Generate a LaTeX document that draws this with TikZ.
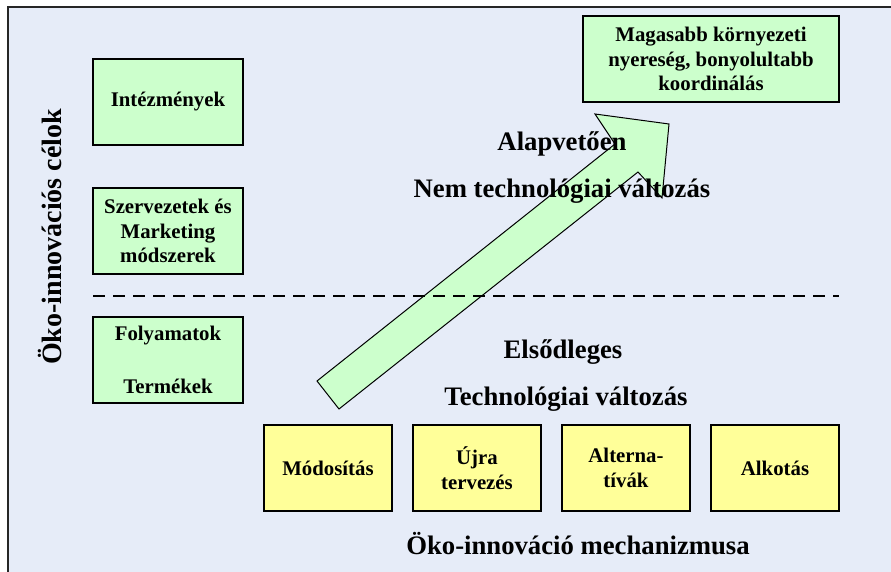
\documentclass[tikz,border=0pt]{standalone}
\usepackage{fontspec}
\setmainfont{Liberation Serif}
\definecolor{bgc}{HTML}{E6ECF8}
\definecolor{gboxc}{HTML}{CCFFCC}
\definecolor{yboxc}{HTML}{FFFF99}
\begin{document}
\begin{tikzpicture}[x=1pt,y=-1pt,
  box/.style={draw=black, line width=1.4pt, inner sep=0pt, align=center,
    font=\fontsize{20.8}{24.5}\selectfont\bfseries, text=black, minimum height=86pt},
  goalbox/.style={box, fill=gboxc, minimum width=150pt},
  mechbox/.style={box, fill=yboxc, minimum width=128pt},
  bigtext/.style={font=\fontsize{26.7}{31}\selectfont\bfseries, anchor=base, inner sep=0pt, text=black},
  shaft/.style={fill=gboxc, draw=black, line width=1pt, line join=miter},
  divider/.style={draw=black, line width=1.4pt, dash pattern=on 12pt off 8pt}]
\clip (0,0) rectangle (891,572);
\draw[fill=bgc, draw=black!85, line width=1.5pt] (8,7) rectangle (900,590);

% goal boxes
\node[goalbox] (intez) at (168,102) {Intézmények};
\node[goalbox] (szerv) at (168,231) {Szervezetek és\\Marketing\\módszerek};
\node[goalbox] (foly) at (168,360) {Folyamatok\\[28pt]Termékek};
\node[goalbox, minimum width=256pt] (top) at (711,59) {Magasabb környezeti\\nyereség, bonyolultabb\\koordinálás};

% mechanism boxes
\node[mechbox] (mod) at (328,468) {Módosítás};
\node[mechbox] (ujra) at (477,468) {Újra\\tervezés};
\node[mechbox] (alt) at (626,468) {Alterna-\\tívák};
\node[mechbox] (alk) at (775,468) {Alkotás};

% big arrow
\draw[shaft] (317,381) -- (615,144) -- (595,114) -- (669,124) -- (662,198) -- (638,172) -- (339,409) -- cycle;

% divider
\coordinate (dl) at (93,296);
\coordinate (dr) at (839,296);
\draw[divider] (dl) -- (dr);

% texts
\node[bigtext] (t1) at (562,151) {Alapvetően};
\node[bigtext] (t2) at (562,198) {Nem technológiai változás};
\node[bigtext] (t3) at (563,358) {Elsődleges};
\node[bigtext] (t4) at (566,405) {Technológiai változás};
\node[bigtext] (t5) at (578,554) {Öko-innováció mechanizmusa};
\node[bigtext, rotate=90, font=\fontsize{28}{32}\selectfont\bfseries] (t6) at (61,237) {Öko-innovációs célok};
\end{tikzpicture}
\end{document}
